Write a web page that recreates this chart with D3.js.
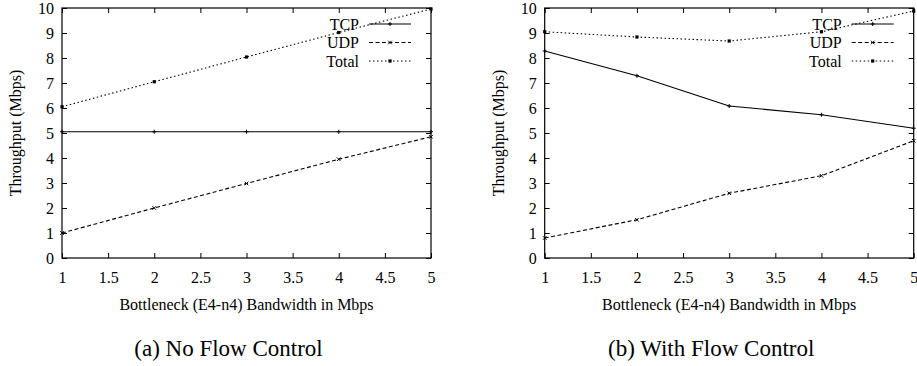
<!DOCTYPE html>
<html>
<head>
<meta charset="utf-8">
<script src="https://cdn.jsdelivr.net/npm/d3@7"></script>
<style>
  body { margin: 0; background: #fff; }
  svg { display: block; }
  .axis path { display: none; }
  .axis line { stroke: #000; stroke-width: 1; }
</style>
</head>
<body>
<svg id="chart" width="917" height="366"></svg>
<script>
// bandwidth of the bottleneck link (Mbps)
const bandwidth = [1, 2, 3, 4, 5]

// (a) no flow control
const tcpNoFc = [5.05, 5.05, 5.05, 5.05, 5.05]
const udpNoFc = [1.0, 2.0, 2.98, 3.95, 4.85]
const totalNoFc = [6.05, 7.05, 8.04, 9.02, 9.96]

// (b) with flow control
const tcpFc = [8.28, 7.29, 6.08, 5.73, 5.19]
const udpFc = [0.8, 1.53, 2.59, 3.29, 4.69]
const totalFc = [9.05, 8.84, 8.68, 9.05, 9.88]

const xTicks = [1, 1.5, 2, 2.5, 3, 3.5, 4, 4.5, 5]
const yTicks = [0, 1, 2, 3, 4, 5, 6, 7, 8, 9, 10]
const seriesNames = ['TCP', 'UDP', 'Total']

const width = 369, height = 250
const font = 'Liberation Serif'
const svg = d3.select('#chart')

const styles = {
  TCP: { dash: null, mark: 'plus' },
  UDP: { dash: '4,2.5', mark: 'cross' },
  Total: { dash: '1.5,2.5', mark: 'square' }
}

function drawMark(g, type, x, y) {
  if (type === 'plus') {
    g.append('path').attr('d', `M${x - 2},${y}H${x + 2}M${x},${y - 2}V${y + 2}`)
      .attr('stroke', '#000').attr('stroke-width', 1)
  } else if (type === 'cross') {
    g.append('path').attr('d', `M${x - 1.8},${y - 1.8}L${x + 1.8},${y + 1.8}M${x - 1.8},${y + 1.8}L${x + 1.8},${y - 1.8}`)
      .attr('stroke', '#000').attr('stroke-width', 1)
  } else {
    g.append('rect').attr('x', x - 1.6).attr('y', y - 1.6).attr('width', 3.2).attr('height', 3.2)
      .attr('fill', '#000')
  }
}

function drawPanel(left, series, caption) {
  const g = svg.append('g').attr('transform', `translate(${left},8)`)

  const x = d3.scaleLinear().domain([1, 5]).range([0, width])
  const y = d3.scaleLinear().domain([0, 10]).range([height, 0])

  // inward ticks on all four sides, gnuplot style
  g.append('g').attr('class', 'axis').attr('transform', `translate(0,${height})`)
    .call(d3.axisBottom(x).tickValues(xTicks).tickSize(-5).tickPadding(14).tickFormat(d3.format('')))
  g.append('g').attr('class', 'axis')
    .call(d3.axisTop(x).tickValues(xTicks).tickSize(-5).tickFormat(''))
  g.append('g').attr('class', 'axis')
    .call(d3.axisLeft(y).tickValues(yTicks).tickSize(-5).tickPadding(8))
  g.append('g').attr('class', 'axis').attr('transform', `translate(${width},0)`)
    .call(d3.axisRight(y).tickValues(yTicks).tickSize(-5).tickFormat(''))

  g.append('rect').attr('width', width).attr('height', height)
    .attr('fill', 'none').attr('stroke', '#000').attr('stroke-width', 1.2)

  const line = d3.line().x((d, i) => x(bandwidth[i])).y(d => y(d))

  seriesNames.forEach((name, k) => {
    const vals = series[k]
    const st = styles[name]
    g.append('path').datum(vals).attr('d', line)
      .attr('fill', 'none').attr('stroke', '#000').attr('stroke-width', 1.1)
      .attr('stroke-dasharray', st.dash)
    vals.forEach((v, i) => drawMark(g, st.mark, x(bandwidth[i]), y(v)))

    // legend row
    const ly = 16 + k * 18.5
    g.append('text').attr('x', 297).attr('y', ly).attr('dy', '0.35em')
      .attr('text-anchor', 'end').style('font-size', '16px').text(name)
    g.append('line').attr('x1', 307).attr('x2', 349).attr('y1', ly).attr('y2', ly)
      .attr('stroke', '#000').attr('stroke-width', 1.1).attr('stroke-dasharray', st.dash)
    drawMark(g, st.mark, 328, ly)
  })

  g.append('text').attr('transform', `translate(-41,${height / 2}) rotate(-90)`)
    .attr('text-anchor', 'middle').style('font-size', '16px').text('Throughput (Mbps)')

  g.append('text').attr('x', width / 2).attr('y', 302)
    .attr('text-anchor', 'middle').style('font-size', '16px')
    .text('Bottleneck (E4-n4) Bandwidth in Mbps')

  g.append('text').attr('x', width / 2 - 18).attr('y', 348)
    .attr('text-anchor', 'middle').style('font-size', '23px').text(caption)
}

drawPanel(62, [tcpNoFc, udpNoFc, totalNoFc], '(a) No Flow Control')
drawPanel(544.7, [tcpFc, udpFc, totalFc], '(b) With Flow Control')

svg.selectAll('text').style('font-family', font).attr('fill', '#000')
svg.selectAll('.axis text').style('font-size', '16px')
</script>
</body>
</html>
